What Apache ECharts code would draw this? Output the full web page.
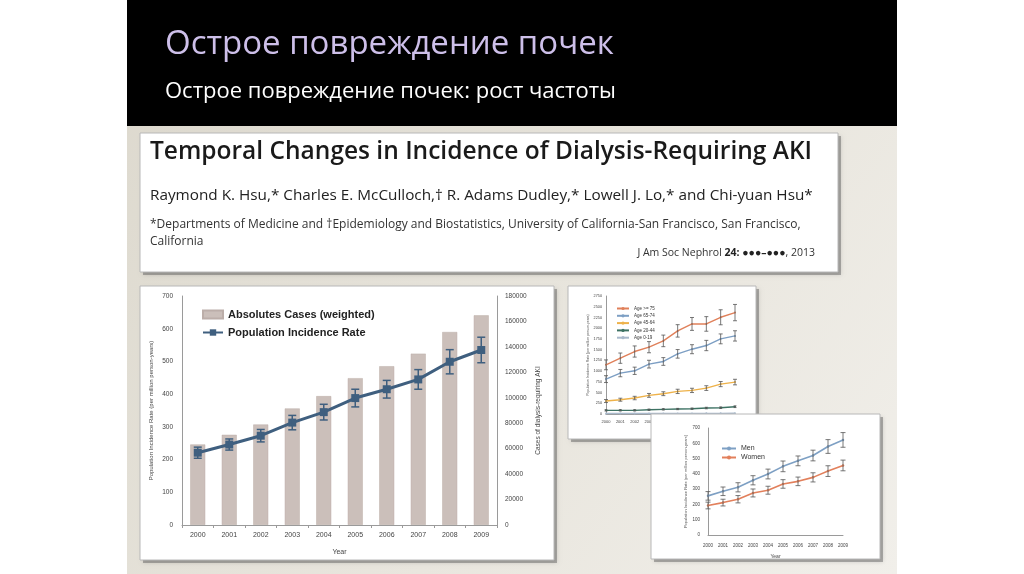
<!DOCTYPE html>
<html><head><meta charset="utf-8">
<script src="https://cdn.jsdelivr.net/npm/echarts@6/dist/echarts.min.js"></script>
<style>html,body{margin:0;padding:0;background:#fff}#c{width:1024px;height:574px}</style>
</head><body><div id="c"></div>
<script>
// ---------- data ----------
const years = ['2000','2001','2002','2003','2004','2005','2006','2007','2008','2009'];
// main chart
const absCases = [63300, 70900, 79000, 91600, 101300, 115400, 124800, 134700, 151700, 164800];
const incidenceRate = [221, 246, 273, 313, 345, 388, 415, 445, 499, 535];
const incidenceErr = [17, 17, 19, 22, 24, 27, 27, 30, 37, 39];
const mainLegend = ['Absolutes Cases (weighted)', 'Population Incidence Rate'];
// age chart
const ageGroups = ['Age >= 75', 'Age 65-74', 'Age 45-64', 'Age 20-44', 'Age 0-19'];
const age75 = [1146, 1301, 1456, 1557, 1704, 1937, 2099, 2099, 2254, 2363];
const age75Err = [115, 120, 130, 130, 135, 145, 150, 170, 175, 190];
const age65 = [813, 953, 1007, 1162, 1224, 1402, 1510, 1596, 1751, 1820];
const age65Err = [80, 85, 85, 90, 90, 100, 105, 120, 115, 120];
const age45 = [302, 333, 372, 434, 473, 527, 550, 604, 697, 744];
const age45Err = [35, 35, 40, 45, 45, 50, 50, 55, 60, 65];
const age20 = [85, 85, 85, 100, 108, 116, 124, 139, 147, 170];
const age20Err = [15, 15, 15, 15, 15, 15, 15, 18, 18, 20];
const age0 = [12, 12, 12, 13, 13, 14, 14, 15, 15, 16];
// sex chart
const sexGroups = ['Men', 'Women'];
const menRate = [256, 286, 312, 358, 399, 449, 485, 520, 579, 622];
const menErr = [28, 28, 30, 30, 32, 35, 32, 35, 45, 48];
const womenRate = [193, 212, 234, 275, 293, 334, 351, 377, 418, 455];
const womenErr = [22, 22, 24, 26, 26, 28, 28, 30, 35, 35];
// axis ticks
const mainLeftMax = 700, mainLeftStep = 100, mainRightMax = 180000, mainRightStep = 20000;
const ageMax = 2750, ageStep = 250, sexMax = 700, sexStep = 100;

// ---------- helpers ----------
function errSeries(vals, errs, xi, yi, color, cap, lw, zl) {
  return {
    type: 'custom', xAxisIndex: xi, yAxisIndex: yi, zlevel: zl, z: 6, silent: true,
    data: vals.map((v, i) => [i, v - errs[i], v + errs[i]]),
    encode: {x: 0, y: [1, 2]},
    renderItem(params, api) {
      const lo = api.coord([api.value(0), api.value(1)]);
      const hi = api.coord([api.value(0), api.value(2)]);
      const st = {stroke: color, lineWidth: lw};
      return {type: 'group', children: [
        {type: 'line', shape: {x1: hi[0], y1: hi[1], x2: lo[0], y2: lo[1]}, style: st},
        {type: 'line', shape: {x1: hi[0] - cap, y1: hi[1], x2: hi[0] + cap, y2: hi[1]}, style: st},
        {type: 'line', shape: {x1: lo[0] - cap, y1: lo[1], x2: lo[0] + cap, y2: lo[1]}, style: st}
      ]};
    }
  };
}
function lineS(name, vals, xi, yi, color, zl, lw, sym, ss) {
  return {type: 'line', name, data: vals, xAxisIndex: xi, yAxisIndex: yi, zlevel: zl, z: 5,
    color, lineStyle: {width: lw, color}, itemStyle: {color},
    symbol: sym, symbolSize: ss, showSymbol: true, animation: false};
}
const axisGrey = '#9a9a9a';
const plain = (v) => String(v);
const tickLbl = (fs) => ({fontSize: fs, color: '#444', fontFamily: 'Liberation Sans', formatter: plain});

const chart = echarts.init(document.getElementById('c'), null, {renderer: 'canvas'});

function card(x, y, w, h, zl) {
  return [
    {type: 'rect', zlevel: zl, z: 0, shape: {x: x + 3, y: y + 3, width: w, height: h},
      style: {fill: 'rgba(90,90,90,0.45)', shadowBlur: 4, shadowColor: 'rgba(0,0,0,0.3)'}},
    {type: 'rect', zlevel: zl, z: 1, shape: {x, y, width: w, height: h},
      style: {fill: '#ffffff', stroke: '#b8b8b8', lineWidth: 1}}
  ];
}
function txt(text, x, y, font, fill, align, extra) {
  return Object.assign({type: 'text', zlevel: 0, z: 2, x, y,
    style: {text, font, fill, align: align || 'left', textAlign: align || 'left',
      verticalAlign: 'middle', textVerticalAlign: 'middle'}}, extra || {});
}

const graphics = [
  {type: 'rect', zlevel: 0, z: 0, shape: {x: 127, y: 0, width: 770, height: 574},
    style: {fill: new echarts.graphic.LinearGradient(0, 0, 1, 1, [
      {offset: 0, color: '#dcd8cd'}, {offset: 0.6, color: '#e9e6de'}, {offset: 1, color: '#f1efea'}])}},
  {type: 'rect', zlevel: 0, z: 0, shape: {x: 127, y: 0, width: 770, height: 126}, style: {fill: '#000'}},
  txt('Острое повреждение почек', 165, 45, '33px "Open Sans"', '#cdbfe9'),
  txt('Острое повреждение почек: рост частоты', 165, 92, '22px "Open Sans"', '#ffffff'),
  ...card(140, 133, 698, 139, 0),
  txt('Temporal Changes in Incidence of Dialysis-Requiring AKI', 150, 152, '600 24.5px "Open Sans"', '#1a1a1a'),
  txt('Raymond K. Hsu,* Charles E. McCulloch,† R. Adams Dudley,* Lowell J. Lo,* and Chi-yuan Hsu*', 150, 196, '15.3px "Open Sans"', '#222'),
  txt('*Departments of Medicine and †Epidemiology and Biostatistics, University of California-San Francisco, San Francisco,', 150, 225, '12px "Open Sans"', '#333'),
  txt('California', 150, 242, '12px "Open Sans"', '#333'),
  {type: 'text', zlevel: 0, z: 2, x: 815, y: 253,
    style: {text: '{a|J Am Soc Nephrol }{b|24: ●●●–●●●}{a|, 2013}', align: 'right', textAlign: 'right',
      verticalAlign: 'middle', textVerticalAlign: 'middle', fill: '#333',
      rich: {a: {font: '10.5px "Open Sans"', fill: '#333', color: '#333'},
             b: {font: 'bold 10.5px "Open Sans"', fill: '#222', color: '#222'}}}},
  ...card(140, 286, 414, 274, 0),
  ...card(568, 286, 188, 153, 0),
  ...card(651, 414, 229, 145, 1)
];

const option = {
  animation: false,
  graphic: {elements: graphics},
  legend: [
    {data: [{name: mainLegend[0], icon: 'rect'}, {name: mainLegend[1]}], orient: 'vertical', left: 197, top: 304,
      itemWidth: 20, itemHeight: 8, itemGap: 7,
      textStyle: {fontSize: 11, fontWeight: 'bold', color: '#222', fontFamily: 'Liberation Sans'}, z: 7},
    {data: ageGroups, orient: 'vertical', left: 611, top: 301, itemWidth: 12, itemHeight: 4, itemGap: 2.3,
      textStyle: {fontSize: 4.5, color: '#333', fontFamily: 'Liberation Sans'}, z: 7},
    {data: sexGroups, orient: 'vertical', left: 716, top: 440, itemWidth: 14, itemHeight: 5, itemGap: 2,
      textStyle: {fontSize: 7, color: '#333', fontFamily: 'Liberation Sans'}, zlevel: 1, z: 7}
  ],
  grid: [
    {left: 182, right: 527, top: 296, bottom: 49},
    {left: 606, right: 289, top: 296, bottom: 160},
    {left: 708, right: 181, top: 428, bottom: 39, zlevel: 1}
  ],
  xAxis: [
    {type: 'category', gridIndex: 0, data: years, boundaryGap: true, z: 4,
      name: 'Year', nameLocation: 'middle', nameGap: 24, nameTextStyle: {fontSize: 7, color: '#444'},
      axisLine: {lineStyle: {color: axisGrey}}, axisTick: {show: true, length: 3, lineStyle: {color: axisGrey}},
      axisLabel: Object.assign({margin: 7}, tickLbl(7))},
    {type: 'category', gridIndex: 1, data: years, boundaryGap: false, z: 4,
      axisLine: {lineStyle: {color: axisGrey}}, axisTick: {show: false},
      axisLabel: Object.assign({margin: 6, interval: 0}, tickLbl(4))},
    {type: 'category', gridIndex: 2, data: years, boundaryGap: false, zlevel: 1, z: 4,
      name: 'Year', nameLocation: 'middle', nameGap: 19, nameTextStyle: {fontSize: 5, color: '#444'},
      axisLine: {lineStyle: {color: axisGrey}}, axisTick: {show: false},
      axisLabel: Object.assign({margin: 8, interval: 0}, tickLbl(4.5))}
  ],
  yAxis: [
    {type: 'value', gridIndex: 0, min: 0, max: mainLeftMax, interval: mainLeftStep, z: 4,
      name: 'Population Incidence Rate (per million person-years)', nameLocation: 'middle', nameGap: 28,
      nameTextStyle: {fontSize: 6, color: '#444'},
      axisLine: {show: true, lineStyle: {color: axisGrey}}, axisTick: {show: false}, splitLine: {show: false},
      axisLabel: Object.assign({margin: 9}, tickLbl(6.5))},
    {type: 'value', gridIndex: 0, position: 'right', min: 0, max: mainRightMax, interval: mainRightStep, z: 4,
      name: 'Cases of dialysis-requiring AKI', nameLocation: 'middle', nameGap: 38,
      nameTextStyle: {fontSize: 6.5, color: '#444'},
      axisLine: {show: true, lineStyle: {color: axisGrey}}, axisTick: {show: false}, splitLine: {show: false},
      axisLabel: Object.assign({margin: 8}, tickLbl(6.5))},
    {type: 'value', gridIndex: 1, min: 0, max: ageMax, interval: ageStep, z: 4,
      name: 'Population Incidence Rate (per million person-years)', nameLocation: 'middle', nameGap: 10,
      nameTextStyle: {fontSize: 3.5, color: '#555'},
      axisLine: {show: true, lineStyle: {color: axisGrey}}, axisTick: {show: false}, splitLine: {show: false},
      axisLabel: Object.assign({margin: 4}, tickLbl(3.8))},
    {type: 'value', gridIndex: 2, min: 0, max: sexMax, interval: sexStep, zlevel: 1, z: 4,
      name: 'Population Incidence Rate (per million person-years)', nameLocation: 'middle', nameGap: 20,
      nameTextStyle: {fontSize: 4, color: '#555'},
      axisLine: {show: true, lineStyle: {color: axisGrey}}, axisTick: {show: false}, splitLine: {show: false},
      axisLabel: Object.assign({margin: 8}, tickLbl(4.5))}
  ],
  series: [
    {type: 'bar', name: mainLegend[0], data: absCases, xAxisIndex: 0, yAxisIndex: 1, barWidth: 15, z: 3,
      itemStyle: {color: '#cbbfba', borderColor: '#bcaea9', borderWidth: 0.5}},
    lineS(mainLegend[1], incidenceRate, 0, 0, '#3f5f7f', 0, 3, 'rect', 8),
    errSeries(incidenceRate, incidenceErr, 0, 0, '#3f5f7f', 4, 1.5, 0),

    lineS(ageGroups[0], age75, 1, 2, '#e0805a', 0, 1.4, 'circle', 2),
    lineS(ageGroups[1], age65, 1, 2, '#7d9fc4', 0, 1.4, 'circle', 2),
    lineS(ageGroups[2], age45, 1, 2, '#eeb24a', 0, 1.4, 'circle', 2),
    lineS(ageGroups[3], age20, 1, 2, '#3d7263', 0, 1.4, 'circle', 2),
    lineS(ageGroups[4], age0, 1, 2, '#a9b9cb', 0, 1.4, 'circle', 2),
    errSeries(age75, age75Err, 1, 2, '#555', 2, 0.8, 0),
    errSeries(age65, age65Err, 1, 2, '#555', 2, 0.8, 0),
    errSeries(age45, age45Err, 1, 2, '#555', 2, 0.8, 0),
    errSeries(age20, age20Err, 1, 2, '#555', 1.5, 0.8, 0),

    lineS(sexGroups[0], menRate, 2, 3, '#7ea0c4', 1, 1.6, 'circle', 2.5),
    lineS(sexGroups[1], womenRate, 2, 3, '#e2805c', 1, 1.6, 'circle', 2.5),
    errSeries(menRate, menErr, 2, 3, '#555', 2.5, 0.8, 1),
    errSeries(womenRate, womenErr, 2, 3, '#555', 2.5, 0.8, 1)
  ]
};
chart.setOption(option);
</script>
</body></html>
